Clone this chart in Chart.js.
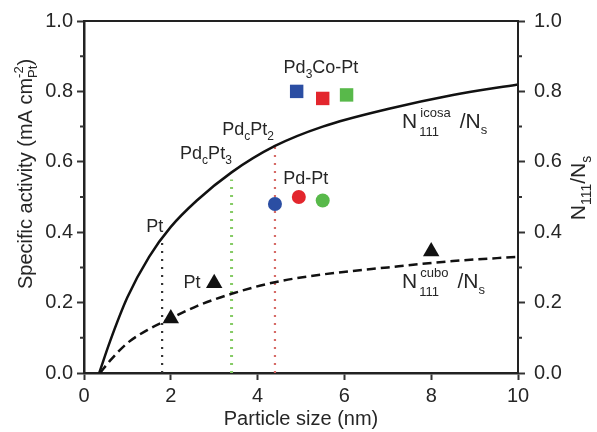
<!DOCTYPE html>
<html>
<head>
<meta charset="utf-8">
<script src="https://cdn.jsdelivr.net/npm/chart.js"></script>
<style>
html, body { margin: 0; padding: 0; background: #fff; }
</style>
</head>
<body>
<canvas id="c" width="597" height="432"></canvas>
<script>
// N111/Ns curves
const icosaX = [0.35, 0.6, 1.0, 1.5, 2.0, 2.6, 3.4, 4.4, 5.5, 7.0, 8.5, 10];
const icosaY = [0, 0.09, 0.215, 0.33, 0.415, 0.49, 0.57, 0.645, 0.70, 0.75, 0.79, 0.82];
const cuboX = [0.37, 0.6, 1.0, 1.5, 2.0, 2.6, 3.4, 4.4, 5.5, 7.0, 8.5, 10];
const cuboY = [0, 0.035, 0.085, 0.125, 0.155, 0.19, 0.225, 0.258, 0.28, 0.30, 0.318, 0.33];

// measured activities (blue, red, green)
const pd3coX = [4.9, 5.5, 6.05];
const pd3coY = [0.80, 0.78, 0.79];
const pdptX = [4.4, 4.95, 5.5];
const pdptY = [0.48, 0.50, 0.49];
const ptX = [2, 3, 8];
const ptY = [0.155, 0.255, 0.345];

// dotted drop lines: Pt, PdcPt3, PdcPt2
const dropX = [1.8, 3.4, 4.4];
const dropTop = [0.38, 0.55, 0.65];

const xTicks = [0, 2, 4, 6, 8, 10];
const yTicks = [0, 0.2, 0.4, 0.6, 0.8, 1.0];
const yMinor = [0.1, 0.3, 0.5, 0.7, 0.9];

const FONT = "'Liberation Sans', Arial, sans-serif";
const INK = "#262626";
const colors = ["#2b4ea3", "#e3262d", "#58b94a"];
const dropColors = ["#333333", "#86cc66", "#d66a66"];

const pts = (xs, ys) => xs.map((x, i) => ({ x: x, y: ys[i] }));

// lower order = drawn on top
const datasets = [
  { data: pts(icosaX, icosaY), showLine: true, borderColor: "#111", borderWidth: 2.5,
    pointRadius: 0, cubicInterpolationMode: "monotone", order: 2 },
  { data: pts(cuboX, cuboY), showLine: true, borderColor: "#111", borderWidth: 2.5,
    borderDash: [9, 5], pointRadius: 0, cubicInterpolationMode: "monotone", order: 2 }
];
dropX.forEach((x, i) => {
  datasets.push({
    data: [{ x: x, y: 0 }, { x: x, y: dropTop[i] }], showLine: true,
    borderColor: dropColors[i], borderWidth: i === 1 ? 3 : 2.2, borderDash: [2, 6],
    pointRadius: 0, order: 3
  });
});
datasets.push({ data: pts(pd3coX, pd3coY), pointStyle: "rect", pointRadius: 9.5,
  backgroundColor: colors, borderColor: colors, borderWidth: 0, order: 1 });
datasets.push({ data: pts(pdptX, pdptY), pointStyle: "circle", pointRadius: 7,
  backgroundColor: colors, borderColor: colors, borderWidth: 0, order: 1 });
datasets.push({ data: pts(ptX, ptY), pointStyle: "triangle", pointRadius: 9.5,
  backgroundColor: "#111", borderColor: "#111", borderWidth: 0, order: 1 });

// text with sub/superscripts: parts = [text, size, dy, stackOnPrevious, xOffset]
function drawRich(ctx, x, y, parts, measureOnly) {
  let cx = x, start = x, last = 0;
  ctx.textBaseline = "alphabetic";
  ctx.textAlign = "left";
  parts.forEach(p => {
    ctx.font = p[1] + "px " + FONT;
    const pw = ctx.measureText(p[0]).width;
    const off = p[4] || 0;
    if (p[3]) {
      if (!measureOnly) ctx.fillText(p[0], start + off, y + p[2]);
      cx = start + Math.max(last, pw + off);
      last = Math.max(last, pw + off);
    } else {
      start = cx + off;
      if (!measureOnly) ctx.fillText(p[0], start, y + p[2]);
      cx = start + pw;
      last = pw;
    }
  });
  return cx - x;
}
const richWidth = (ctx, parts) => drawRich(ctx, 0, 0, parts, true);

const annot = {
  id: "annot",
  afterDraw(chart) {
    const ctx = chart.ctx, a = chart.chartArea;
    const sx = chart.scales.x, sy = chart.scales.y;
    ctx.save();
    // frame top and right
    ctx.strokeStyle = "#222";
    ctx.lineWidth = 2;
    ctx.beginPath();
    ctx.moveTo(a.left, a.top);
    ctx.lineTo(a.right, a.top);
    ctx.lineTo(a.right, a.bottom);
    ctx.stroke();
    // minor ticks
    ctx.strokeStyle = "#333";
    yMinor.forEach(v => {
      const py = sy.getPixelForValue(v);
      ctx.beginPath();
      ctx.moveTo(a.left - 4, py); ctx.lineTo(a.left, py);
      ctx.moveTo(a.right, py); ctx.lineTo(a.right + 4, py);
      ctx.stroke();
    });

    ctx.fillStyle = INK;
    const at = (x, y) => [sx.getPixelForValue(x), sy.getPixelForValue(y)];
    const centered = (x, y, parts) => {
      const p = at(x, y);
      drawRich(ctx, p[0] - richWidth(ctx, parts) / 2, p[1], parts);
    };
    centered(5.46, 0.853, [["Pd", 18, 0], ["3", 12, 5], ["Co-Pt", 18, 0]]);
    centered(5.11, 0.537, [["Pd-Pt", 18, 0]]);
    centered(3.78, 0.677, [["Pd", 18, 0], ["c", 12, 5], ["Pt", 18, 0], ["2", 12, 5]]);
    centered(2.81, 0.609, [["Pd", 18, 0], ["c", 12, 5], ["Pt", 18, 0], ["3", 12, 5]]);
    centered(1.63, 0.40, [["Pt", 18, 0]]);
    centered(2.49, 0.241, [["Pt", 18, 0]]);

    let p = at(7.33, 0.697);
    drawRich(ctx, p[0], p[1], [["N", 21, 0], ["111", 13, 8, false, 2], ["icosa", 13, -11, true, 1],
      ["/N", 21, 0, false, 9], ["s", 13, 6]]);
    p = at(7.33, 0.241);
    drawRich(ctx, p[0], p[1], [["N", 21, 0], ["111", 13, 8, false, 2], ["cubo", 13, -11, true, 1],
      ["/N", 21, 0, false, 9], ["s", 13, 6]]);

    // axis titles
    const left = [["Specific activity (mA cm", 20, 0], ["-2", 13, -9], ["Pt", 13, 5, true], [")", 20, 0]];
    ctx.save();
    ctx.translate(32, 174);
    ctx.rotate(-Math.PI / 2);
    drawRich(ctx, -richWidth(ctx, left) / 2, 0, left);
    ctx.restore();

    const right = [["N", 21, 0], ["111", 14, 6], ["/N", 21, 0], ["s", 14, 6]];
    ctx.save();
    ctx.translate(585, 188);
    ctx.rotate(-Math.PI / 2);
    drawRich(ctx, -richWidth(ctx, right) / 2, 0, right);
    ctx.restore();

    ctx.font = "20px " + FONT;
    ctx.textAlign = "center";
    ctx.fillText("Particle size (nm)", (a.left + a.right) / 2, 425);
    ctx.restore();
  }
};

const tickFont = { size: 20, family: FONT };
new Chart(document.getElementById("c"), {
  type: "scatter",
  data: { datasets: datasets },
  options: {
    responsive: false,
    animation: false,
    layout: { padding: { top: 20 } },
    plugins: { legend: { display: false }, tooltip: { enabled: false } },
    scales: {
      x: {
        type: "linear", min: 0, max: 10,
        afterFit: s => { s.height = 59; },
        afterBuildTicks: s => { s.ticks = xTicks.map(v => ({ value: v })); },
        ticks: { font: tickFont, color: INK, padding: 4, maxRotation: 0, autoSkip: false },
        grid: { drawOnChartArea: false, tickLength: 7, tickWidth: 2, tickColor: "#333" },
        border: { color: "#222", width: 2.5 }
      },
      y: {
        type: "linear", position: "left", min: 0, max: 1,
        afterFit: s => { s.width = 84; },
        afterBuildTicks: s => { s.ticks = yTicks.map(v => ({ value: v })); },
        ticks: { font: tickFont, color: INK, padding: 4, callback: v => v.toFixed(1) },
        grid: { drawOnChartArea: false, tickLength: 7, tickWidth: 2, tickColor: "#333" },
        border: { color: "#222", width: 2.5 }
      },
      y2: {
        type: "linear", position: "right", min: 0, max: 1,
        afterFit: s => { s.width = 79; },
        afterBuildTicks: s => { s.ticks = yTicks.map(v => ({ value: v })); },
        ticks: { font: tickFont, color: INK, padding: 9, callback: v => v.toFixed(1) },
        grid: { drawOnChartArea: false, tickLength: 7, tickWidth: 2, tickColor: "#333" },
        border: { color: "#222", width: 2 }
      }
    }
  },
  plugins: [annot]
});
</script>
</body>
</html>
